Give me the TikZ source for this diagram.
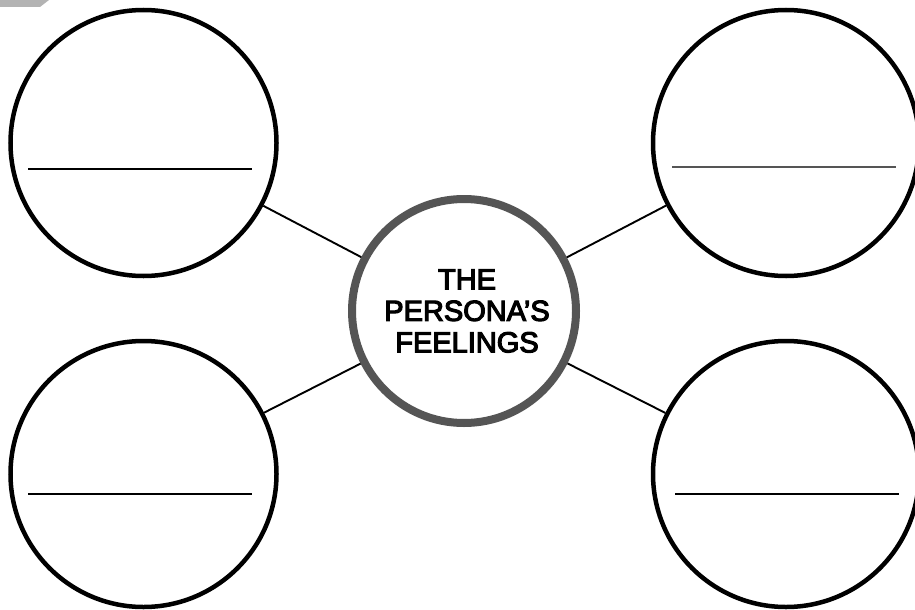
\documentclass[tikz,border=0pt]{standalone}
\usepackage{fontspec}
\setmainfont{Liberation Sans}
\newfontfamily\hubfont{Liberation Sans}[FakeBold=4]
\begin{document}
\begin{tikzpicture}[x=1pt,y=-1pt,
  bubble/.style={draw=black,line width=4.5pt,circle,minimum size=266pt,inner sep=0pt,fill=white},
  hub/.style={draw=hubgrey,line width=8pt,circle,minimum size=224pt,inner sep=0pt,fill=white},
  hubtext/.style={font=\hubfont\fontsize{29}{31.5}\selectfont,align=center,xshift=3pt},
  link/.style={draw=black,line width=1.9pt},
  rule/.style={draw=black,line width=1.5pt}]
\definecolor{hubgrey}{HTML}{555555}
\definecolor{tabgrey}{HTML}{B3B3B3}
\useasboundingbox (0,0) rectangle (915,610);
\clip (0,0) rectangle (915,610);
\fill[white] (0,0) rectangle (915,610);
\fill[tabgrey] (0,0) -- (49,0) -- (40,7) -- (0,7) -- cycle;
\node[bubble] (tl) at (143.5,143) {};
\node[bubble] (tr) at (786,143) {};
\node[bubble] (bl) at (143.5,474) {};
\node[bubble] (br) at (786,474) {};
\node[hub,label={[hubtext]center:THE\\PERSONA’S\\FEELINGS}] (c) at (464,311) {};
\draw[link] (tl) -- (c);
\draw[link] (tr) -- (c);
\draw[link] (bl) -- (c);
\draw[link] (br) -- (c);
\draw[rule] (28,169) -- (252,169);
\draw[rule,draw=hubgrey] (672,167) -- (896,167);
\draw[rule] (28,494) -- (252,494);
\draw[rule] (675,494) -- (899,494);
\end{tikzpicture}
\end{document}
